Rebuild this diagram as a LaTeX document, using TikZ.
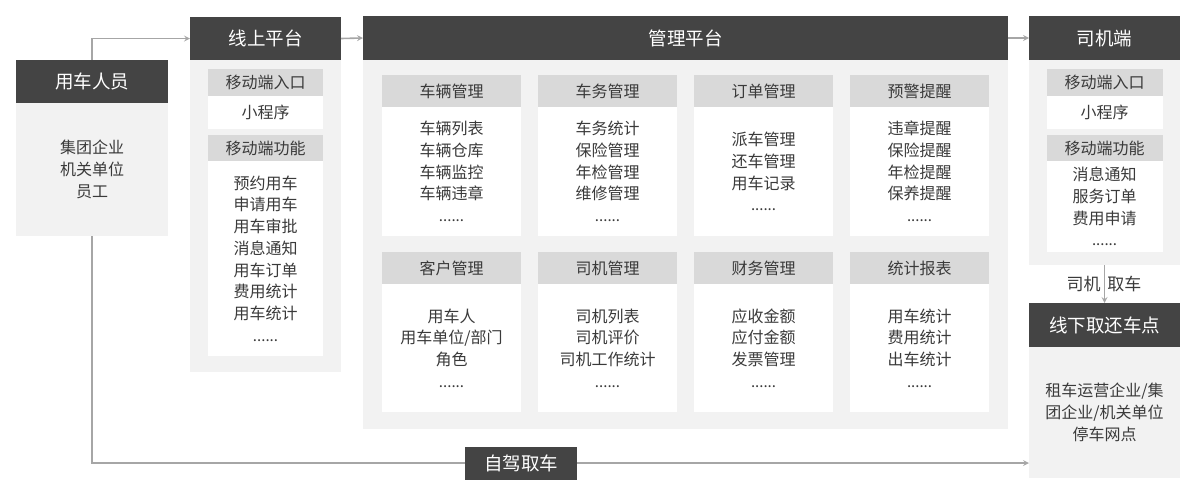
\documentclass[tikz,border=0pt]{standalone}
\usepackage{fontspec}
\setmainfont{Noto Sans CJK SC}
\usetikzlibrary{
		positioning,
		arrows.meta
	}
\tikzset{
		>=stealth
	}
\definecolor{hdark}{HTML}{444444}
\definecolor{bglight}{HTML}{F2F2F2}
\definecolor{subgray}{HTML}{D9D9D9}
\definecolor{txtgray}{HTML}{3A3A3A}
\definecolor{linkgray}{HTML}{A6A6A6}
\newcommand{\moredots}{{\fontsize{15}{15}\selectfont ......}}

\begin{document}
\begin{tikzpicture}[x=1pt,y=-1pt,font=\fontsize{16}{21.7}\selectfont,text=txtgray]
	\tikzstyle{head}=[fill=hdark, text=white, font=\fontsize{18.5}{22}\selectfont, minimum width=151pt, minimum height=44pt, inner sep=0pt, outer sep=0pt]
	\tikzstyle{body}=[fill=bglight, minimum width=151pt, inner sep=0pt, outer sep=0pt, align=center]
	\tikzstyle{subhead}=[fill=subgray, minimum width=115pt, minimum height=27pt, inner sep=0pt, outer sep=0pt]
	\tikzstyle{subbody}=[fill=white, minimum width=115pt, inner sep=0pt, outer sep=0pt, align=center]
	\tikzstyle{cardhead}=[fill=subgray, minimum width=139pt, minimum height=32pt, inner sep=0pt, outer sep=0pt]
	\tikzstyle{cardbody}=[fill=white, minimum width=139pt, minimum height=129pt, inner sep=0pt, outer sep=0pt, align=center]
	\tikzstyle{line}=[draw=linkgray, line width=1.6pt]
	\tikzstyle{link}=[line, ->]
	\useasboundingbox (0,0) rectangle (1196,488);
	% Users
	\node[head, minimum width=152pt, minimum height=43pt, anchor=north west] (user) at (16,60) {用车人员};
	\node[body, minimum width=152pt, minimum height=133pt] (userb) [below = 0pt of user] {集团企业\\机关单位\\员工};
	% Online platform
	\node[head, minimum height=43pt, anchor=north west] (online) at (190,17) {线上平台};
	\node[body, minimum height=312pt] (onlineb) [below = 0pt of online] {};
	\node[subhead] (onentry) [below = 9pt of online] {移动端入口};
	\node[subbody, minimum height=33pt] (onapp) [below = 0pt of onentry] {小程序};
	\node[subhead, minimum height=26pt] (onfunc) [below = 6pt of onapp] {移动端功能};
	\node[subbody, minimum height=195pt] (onlist) [below = 0pt of onfunc] {预约用车\\申请用车\\用车审批\\消息通知\\用车订单\\费用统计\\用车统计\\\moredots};
	% Management platform
	\node[head, minimum width=645pt, anchor=north west] (mgmt) at (363,16) {管理平台};
	\node[body, minimum width=645pt, minimum height=369pt] (mgmtb) [below = 0pt of mgmt] {};
	\node[cardhead, anchor=north west] (vehicle) at (382,75) {车辆管理};
	\node[cardbody] (vehicleb) [below = 0pt of vehicle] {车辆列表\\车辆仓库\\车辆监控\\车辆违章\\\moredots};
	\node[cardhead] (affair) [right = 17pt of vehicle] {车务管理};
	\node[cardbody] (affairb) [below = 0pt of affair] {车务统计\\保险管理\\年检管理\\维修管理\\\moredots};
	\node[cardhead] (order) [right = 17pt of affair] {订单管理};
	\node[cardbody] (orderb) [below = 0pt of order] {派车管理\\还车管理\\用车记录\\\moredots};
	\node[cardhead] (alert) [right = 17pt of order] {预警提醒};
	\node[cardbody] (alertb) [below = 0pt of alert] {违章提醒\\保险提醒\\年检提醒\\保养提醒\\\moredots};
	\node[cardhead] (client) [below = 16pt of vehicleb] {客户管理};
	\node[cardbody, minimum height=128pt] (clientb) [below = 0pt of client] {用车人\\用车单位/部门\\角色\\\moredots};
	\node[cardhead] (driver) [below = 16pt of affairb] {司机管理};
	\node[cardbody, minimum height=128pt] (driverb) [below = 0pt of driver] {司机列表\\司机评价\\司机工作统计\\\moredots};
	\node[cardhead] (finance) [below = 16pt of orderb] {财务管理};
	\node[cardbody, minimum height=128pt] (financeb) [below = 0pt of finance] {应收金额\\应付金额\\发票管理\\\moredots};
	\node[cardhead] (report) [below = 16pt of alertb] {统计报表};
	\node[cardbody, minimum height=128pt] (reportb) [below = 0pt of report] {用车统计\\费用统计\\出车统计\\\moredots};
	% Driver side
	\node[head, anchor=north west] (drvapp) at (1029,16) {司机端};
	\node[body, minimum height=205pt] (drvappb) [below = 0pt of drvapp] {};
	\node[subhead, minimum width=116pt] (drventry) [below = 9pt of drvapp] {移动端入口};
	\node[subbody, minimum width=116pt, minimum height=33pt] (drvmini) [below = 0pt of drventry] {小程序};
	\node[subhead, minimum width=116pt, minimum height=26pt] (drvfunc) [below = 6pt of drvmini] {移动端功能};
	\node[subbody, minimum width=116pt, minimum height=91pt] (drvlist) [below = 0pt of drvfunc] {消息通知\\服务订单\\费用申请\\\moredots};
	% Offline pick-up point
	\node[head, anchor=north west] (offline) at (1029,303) {线下取还车点};
	\node[body, minimum height=131pt] (offlineb) [below = 0pt of offline] {租车运营企业/集\\团企业/机关单位\\停车网点};
	\node[head, minimum width=112pt, minimum height=33pt] (selfdrive) at (521,463) {自驾取车};
	% Arrows
	\draw [link] (user.north) |- (online.west);
	\draw [link] (online.east) -- (mgmt.west);
	\draw [link] (mgmt.east) -- (drvapp.west);
	\draw [link] (drvappb.south) -- node[left, inner sep=3pt, font=\fontsize{17}{20}\selectfont]{司机} node[right, inner sep=2pt, font=\fontsize{17}{20}\selectfont]{取车} (offline.north);
	\draw [line] (userb.south) |- (selfdrive.west);
	\draw [link] (selfdrive.east) -- (selfdrive.east -| offlineb.west);
\end{tikzpicture}
\end{document}
